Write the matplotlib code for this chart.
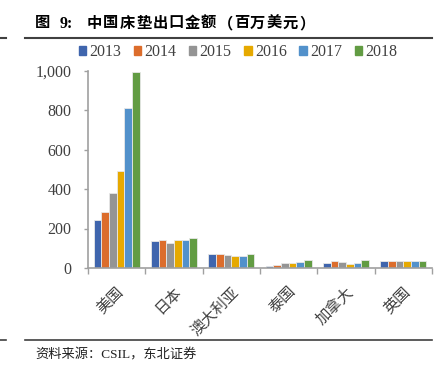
import numpy as np
import matplotlib.pyplot as plt
import matplotlib.transforms as mtransforms
from matplotlib.lines import Line2D
from matplotlib.patches import Patch

# 数据
countries = ['美国', '日本', '澳大利亚', '泰国', '加拿大', '英国']
years = ['2013', '2014', '2015', '2016', '2017', '2018']
v2013 = [242, 137, 73, 12, 24, 33]
v2014 = [283, 140, 73, 17, 34, 33]
v2015 = [378, 129, 67, 25, 29, 33]
v2016 = [490, 140, 62, 25, 19, 33]
v2017 = [808, 143, 62, 32, 24, 33]
v2018 = [993, 150, 73, 39, 39, 33]
series = [v2013, v2014, v2015, v2016, v2017, v2018]
colors = ['#3f65ad', '#dc6d2c', '#949494', '#e6a900', '#5291cb', '#629c43']

fonts = ['Liberation Serif', 'Noto Sans CJK SC']
plt.rcParams['font.family'] = fonts

W, H = 447, 376
fig = plt.figure(figsize=(W / 100, H / 100), dpi=100)
ax = fig.add_axes([88 / W, 1 - 268 / H, (432 - 88) / W, (268 - 70.5) / H])

x = np.arange(len(countries))
bw = 0.8 / 6
for i, (vals, c) in enumerate(zip(series, colors)):
    ax.bar(x - 0.4 + bw * (i + 0.5), vals, width=bw, color=c,
           edgecolor='#e8e8e8', linewidth=0.6, zorder=2)

ax.set_xlim(-0.5, 5.5)
ax.set_ylim(0, 1000)
ax.set_yticks(range(0, 1001, 200))
ax.set_yticklabels(['0', '200', '400', '600', '800', '1,000'], fontsize=11.5, color='#404040')
ax.set_xticks(x)
ax.set_xticklabels(countries, rotation=45, ha='right', rotation_mode='anchor',
                   fontsize=11, color='#404040')
offset = mtransforms.ScaledTranslation(9 / 100, 0, fig.dpi_scale_trans)
for lab in ax.get_xticklabels():
    lab.set_transform(lab.get_transform() + offset)
ax.set_xticks(np.arange(-0.5, 6, 1), minor=True)
ax.tick_params(axis='x', which='major', length=0, pad=12)
ax.tick_params(axis='x', which='minor', length=4, color='#a0a0a0', width=1)
ax.tick_params(axis='y', length=3, color='#a0a0a0', width=1, pad=9)
for s in ['top', 'right']:
    ax.spines[s].set_visible(False)
for s in ['left', 'bottom']:
    ax.spines[s].set_color('#a0a0a0')
    ax.spines[s].set_linewidth(1.2)

handles = [Patch(color=c, label=y) for c, y in zip(colors, years)]
fig.legend(handles=handles, loc='center', bbox_to_anchor=(238 / W, 1 - 52 / H),
           ncol=6, frameon=False, fontsize=11.5, handlelength=0.45, handleheight=0.45,
           handletextpad=0.2, columnspacing=0.8, labelcolor='#404040')

# 标题：逐字放置以获得较宽的字距
ty = 1 - 24 / H
fig.text(35 / W, ty, '图', fontsize=11, fontweight='bold', va='center', ha='left')
fig.text(60 / W, ty, '9:', fontsize=11.5, fontweight='bold', va='center', ha='left')
title = '中国床垫出口金额（百万美元）'
for i, ch in enumerate(title):
    fig.text((87 + 16.3 * i) / W, ty, ch, fontsize=11, fontweight='bold',
             va='center', ha='left')

fig.text(35 / W, 1 - 355 / H, '资料来源：CSIL，东北证券', fontsize=9.5,
         va='center', ha='left', color='#202020')

for yy, lw in [(1 - 38 / H, 1.5), (1 - 340 / H, 1.2)]:
    fig.add_artist(Line2D([25 / W, 432 / W], [yy, yy], color='#404040', lw=lw))
    fig.add_artist(Line2D([0, 6 / W], [yy, yy], color='#404040', lw=lw))

fig.savefig('out.png', dpi=100)
